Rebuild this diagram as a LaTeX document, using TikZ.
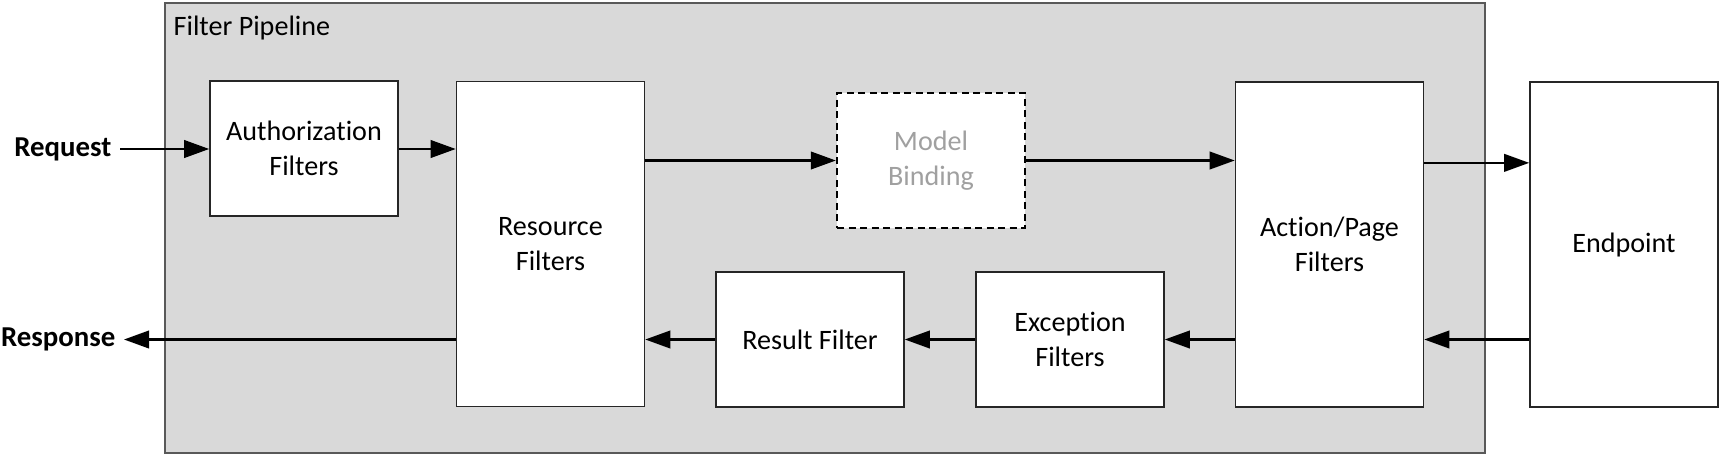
\documentclass[tikz,border=0pt]{standalone}
\usepackage{fontspec}
\setmainfont[Ligatures=NoCommon]{Carlito}
\usepackage{tikz}
\usepackage{xcolor}
\usetikzlibrary{arrows.meta,positioning,calc}
\definecolor{pipefill}{HTML}{D9D9D9}
\definecolor{pipeline}{HTML}{595959}
\definecolor{boxline}{HTML}{262626}
\definecolor{ghosttext}{HTML}{A0A0A0}

\begin{document}
\begin{tikzpicture}[
  font=\fontsize{8}{10}\selectfont,
  box/.style={draw=boxline,fill=white,line width=0.45pt,minimum width=1.88cm,minimum height=1.35cm,inner sep=0pt,align=center},
  tallbox/.style={box,minimum height=3.25cm},
  io/.style={font=\fontsize{8.2}{10}\selectfont\bfseries,anchor=east,inner sep=0.08cm},
  arr/.style={-{Triangle[length=2.5mm,width=1.75mm]},line width=0.65pt,black}
]
\useasboundingbox (0,0) rectangle (17.25,4.58);
\draw[fill=pipefill,draw=pipeline,line width=0.5pt] (1.65,0.05) rectangle (14.85,4.55);
\node[anchor=base west,inner sep=0pt] (title) at (1.73,4.23) {Filter Pipeline};

\node[box] (auth) at (3.04,3.095) {Authorization\\Filters};
\node[tallbox] (res) at (5.505,2.14) {Resource\\Filters};
\node[box,dashed,dash pattern=on 0.7mm off 0.45mm,line width=0.65pt,draw=black,text=ghosttext] (model) at (9.31,2.975) {Model\\Binding};
\node[tallbox] (act) at (13.295,2.135) {Action/Page\\Filters};
\node[tallbox] (ep) at (16.24,2.135) {Endpoint};
\node[box] (result) at (8.10,1.185) {Result Filter};
\node[box] (exc) at (10.70,1.185) {Exception\\Filters};

\node[io] (req) at (1.20,3.09) {Request};
\node[io] (resp) at (1.24,1.185) {Response};

% request path
\draw[arr] (req.east) -- (auth.west |- req.east);
\draw[arr] (auth.east |- req.east) -- (res.west |- req.east);
\draw[arr] (res.east |- model.west) -- (model.west);
\draw[arr] (model.east) -- (act.west |- model.east);
\draw[arr] ($(act.north east)!0.25!(act.south east)$) -- ($(ep.north west)!0.25!(ep.south west)$);

% response path
\draw[arr] (ep.west |- exc.east) -- (act.east |- exc.east);
\draw[arr] (act.west |- exc.east) -- (exc.east);
\draw[arr] (exc.west) -- (result.east);
\draw[arr] (result.west) -- (res.east |- result.west);
\draw[arr] (res.west |- resp.east) -- (resp.east);
\end{tikzpicture}
\end{document}
